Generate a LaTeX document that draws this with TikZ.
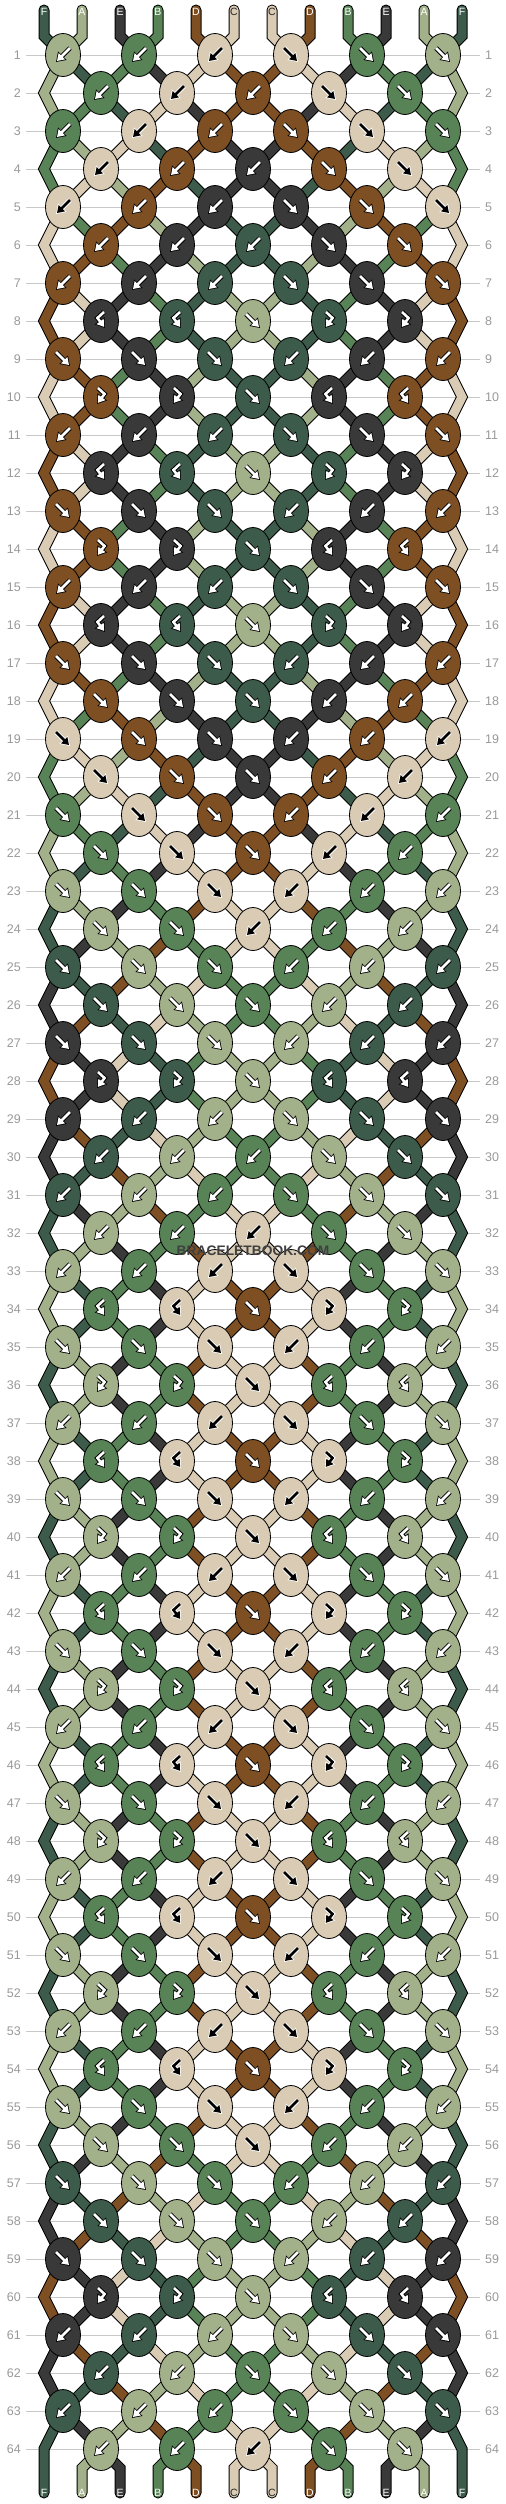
\documentclass[tikz,border=0pt]{standalone}
\usepackage{fontspec}
\setmainfont{Liberation Sans}
\usetikzlibrary{arrows.meta,shapes.geometric}

\definecolor{colA}{HTML}{A3B18A}
\definecolor{colB}{HTML}{588356}
\definecolor{colC}{HTML}{D9CBB4}
\definecolor{colD}{HTML}{7D4F23}
\definecolor{colE}{HTML}{393939}
\definecolor{colF}{HTML}{3C5B4A}
\definecolor{numgray}{HTML}{999999}
\definecolor{rulegray}{HTML}{C8C8C8}

% knots of each kind of row: b backward, f forward,
% X backward-forward, Y forward-backward
\def\rowP{b,b,b,f,f,f}
\def\rowp{b,b,b,f,f}
\def\rowQ{f,f,f,b,b,b}
\def\rowq{f,f,f,b,b}
\def\rowx{X,X,f,Y,Y}
\def\rowy{Y,Y,f,X,X}
\def\rowt{f,f,b,b,b}
\def\rowu{b,b,f,f,f}
\def\rowkinds{P,p,P,p,P,p,P,x,Q,y,P,x,Q,y,P,x,
  Q,q,Q,q,Q,q,Q,t,Q,q,Q,y,P,p,P,p,P,x,Q,y,P,x,Q,y,P,x,Q,y,P,x,Q,y,
  P,x,Q,y,P,x,Q,q,Q,q,Q,y,P,u,P,p}
\def\firstorder{F,A,E,B,D,C,C,D,B,E,A,F}

\newcommand\setstrands{%
  \foreach \sn [count=\ns] in \firstorder {\expandafter\xdef\csname s\ns\endcsname{\sn}}}
\newcommand\swapstrands{%
  \expandafter\xdef\csname s\p\endcsname{\rgt}%
  \expandafter\xdef\csname s\q\endcsname{\lft}}
% one knot: colour \kc, arrow \arr, new order of the strands
\newcommand\tieknot{%
  \ifodd\nr\relax \pgfmathtruncatemacro\p{2*\nk-1}\else \pgfmathtruncatemacro\p{2*\nk}\fi
  \pgfmathtruncatemacro\q{\p+1}%
  \edef\lft{\csname s\p\endcsname}%
  \edef\rgt{\csname s\q\endcsname}%
  \if f\kt \let\kc\lft \def\arr{(-7,-7) -- (7,7)}\swapstrands \fi
  \if b\kt \let\kc\rgt \def\arr{(7,-7) -- (-7,7)}\swapstrands \fi
  \if Y\kt \let\kc\lft \def\arr{(-3,-9) -- (3.5,-3) -- (-4,7)}\fi
  \if X\kt \let\kc\rgt \def\arr{(3,-9) -- (-3.5,-3) -- (4,7)}\fi}

\tikzset{
  knot/.style={ellipse, draw=black, line width=0.8pt, minimum width=35pt,
    minimum height=43pt, inner sep=0pt},
  strand/.style={draw=black, line width=1pt, double=#1, double distance=9pt,
    line cap=round},
  rownum/.style={text=numgray, inner xsep=5pt, font=\fontsize{12.5}{14}\selectfont},
  tag/.style={inner sep=0pt, font=\fontsize{10.5}{12}\selectfont},
  arrowback/.style={draw=\arrbg, line width=4.6pt,
    -{Triangle[width=11.5pt,length=9pt]}},
  arrowfront/.style={draw=\arrfg, line width=2.6pt, shorten >=1.4pt,
    -{Triangle[width=8.5pt,length=6.8pt]}},
}

\begin{document}
\begin{tikzpicture}[x=1pt, y=-1pt]
  \fill[white] (0,0) rectangle (506,2504);
  \useasboundingbox (0,0) rectangle (506,2504);

  % strand ends
  \foreach \ns in {1,...,12}{
    \pgfmathsetmacro\sx{44+38*(\ns-1)}
    \coordinate (top\ns) at (\sx,10);
    \coordinate (tb\ns) at (\sx,36);
    \coordinate (bb\ns) at (\sx,2468);
    \coordinate (bot\ns) at (\sx,2493);
  }

  % knot places, row numbers
  \foreach \nr in {1,...,64}{
    \pgfmathsetmacro\ry{55+38*(\nr-1)}
    \ifodd\nr\relax
      \foreach \nk in {1,...,6}{\coordinate (k\nr-\nk) at (76*\nk-13,\ry);}
    \else
      \foreach \nk in {1,...,5}{\coordinate (k\nr-\nk) at (76*\nk+25,\ry);}
      \coordinate (el\nr) at (44,\ry);
      \coordinate (er\nr) at (462,\ry);
    \fi
    \node[rownum, anchor=east] (lnum\nr) at (26,\ry) {\nr};
    \node[rownum, anchor=west] (rnum\nr) at (480,\ry) {\nr};
    \draw[rulegray, line width=1pt] (lnum\nr.east) -- (rnum\nr.west);
  }

  % strands
  \setstrands
  \foreach \ns in {1,...,12}{
    \pgfmathtruncatemacro\kup{(\ns+1)/2}
    \edef\scol{\csname s\ns\endcsname}
    \draw[strand=col\scol] (top\ns) -- (tb\ns) -- (k1-\kup);
  }
  \foreach \kind [count=\nr] in \rowkinds {
    \edef\knots{\csname row\kind\endcsname}
    \foreach \kt [count=\nk] in \knots {\tieknot}
    \pgfmathtruncatemacro\nxt{\nr+1}
    \pgfmathtruncatemacro\nnx{\nr+2}
    \foreach \ns in {1,...,12}{
      \edef\scol{\csname s\ns\endcsname}
      \pgfmathtruncatemacro\kup{(\ns+1)/2}
      \pgfmathtruncatemacro\kdn{\ns/2}
      \ifodd\nr\relax
        \ifnum\ns=1\relax
          \ifnum\nr<63\relax \draw[strand=col\scol] (k\nr-1) -- (el\nxt) -- (k\nnx-1);
          \else \draw[strand=col\scol] (k\nr-1) -- (el\nxt) -- (bot1);\fi
        \else\ifnum\ns=12\relax
          \ifnum\nr<63\relax \draw[strand=col\scol] (k\nr-6) -- (er\nxt) -- (k\nnx-6);
          \else \draw[strand=col\scol] (k\nr-6) -- (er\nxt) -- (bot12);\fi
        \else
          \draw[strand=col\scol] (k\nr-\kup) -- (k\nxt-\kdn);
        \fi\fi
      \else
        \ifnum\ns>1\relax\ifnum\ns<12\relax
          \ifnum\nr<64\relax \draw[strand=col\scol] (k\nr-\kdn) -- (k\nxt-\kup);
          \else \draw[strand=col\scol] (k\nr-\kdn) -- (bb\ns) -- (bot\ns);\fi
        \fi\fi
      \fi
    }
  }

  % knots
  \setstrands
  \foreach \kind [count=\nr] in \rowkinds {
    \edef\knots{\csname row\kind\endcsname}
    \foreach \kt [count=\nk] in \knots {
      \tieknot
      \if C\kc \def\arrfg{black}\def\arrbg{white}\else\def\arrfg{white}\def\arrbg{black}\fi
      \node[knot, fill=col\kc] (n\nr-\nk) at (k\nr-\nk) {};
      \begin{scope}[shift={(k\nr-\nk)}]
        \draw[arrowback] \arr;
        \draw[arrowfront] \arr;
      \end{scope}
    }
  }

  % letters on the strand ends
  \foreach \sn [count=\ns] in \firstorder {
    \if C\sn \def\tagcol{black!85}\else\def\tagcol{white}\fi
    \node[tag, text=\tagcol, yshift=-2pt] (head\ns) at (top\ns) {\sn};
  }
  \foreach \ns in {1,...,12}{
    \edef\scol{\csname s\ns\endcsname}
    \if C\scol \def\tagcol{black!85}\else\def\tagcol{white}\fi
    \node[tag, text=\tagcol] (foot\ns) at (bot\ns) {\scol};
  }

  \node[text=black!75, font=\bfseries\fontsize{13.8}{15}\selectfont] (mark) at (253,1251) {BRACELETBOOK.COM};
\end{tikzpicture}
\end{document}
